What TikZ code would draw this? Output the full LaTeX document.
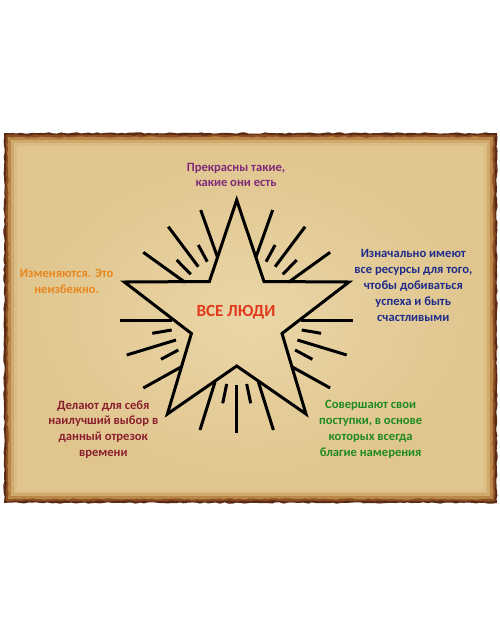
\documentclass[tikz,border=0pt]{standalone}
\usepackage{fontspec}
\setmainfont{Carlito}
\usetikzlibrary{decorations.pathmorphing}
\definecolor{burnA}{HTML}{5A2A12}
\definecolor{burnB}{HTML}{8C4F24}
\definecolor{burnC}{HTML}{B98748}
\definecolor{burnD}{HTML}{D0AA6C}
\definecolor{burnE}{HTML}{DBBC84}
\definecolor{parchIn}{HTML}{EAD6A8}
\definecolor{parchOut}{HTML}{E0C58E}
\definecolor{txtpurple}{HTML}{7E2A78}
\definecolor{txtblue}{HTML}{1E2C8C}
\definecolor{txtorange}{HTML}{E8871E}
\definecolor{txtmaroon}{HTML}{8A1F2E}
\definecolor{txtgreen}{HTML}{1F8A1F}
\definecolor{txtred}{HTML}{E23B1C}
\tikzset{
  rough/.style={decorate,decoration={random steps,segment length=4pt,amplitude=0.7pt}},
  ray/.style={line width=3pt,black,line cap=butt},
  starline/.style={line width=3pt,black,line join=miter},
  lbl/.style={align=center,font=\fontsize{12.6}{15.8}\selectfont\bfseries,inner sep=0pt},
}
\newcommand{\halfrays}{%
  \draw[ray] (200.7,210) -- (217.3,256.7);
  \draw[ray] (168.3,226.7) -- (198.3,266.7);
  \draw[ray] (143.3,252.3) -- (185,282.3);
  \draw[ray] (198.3,245) -- (207.3,261.7);
  \draw[ray] (176.7,260) -- (190.7,274.3);
  \draw[ray] (120,320) -- (172,320);
  \draw[ray] (152.3,333.3) -- (171.7,330);
  \draw[ray] (126.7,355) -- (176,340);
  \draw[ray] (161,359.3) -- (178.3,350);
  \draw[ray] (143.3,388) -- (181.6,366.7);
  \draw[ray] (226.7,384) -- (222.7,403.3);
  \draw[ray] (215,382) -- (200,430);
}
\begin{document}
\begin{tikzpicture}[x=1pt,y=-1pt]
\useasboundingbox (0,0) rectangle (500,625);
\fill[white] (0,0) rectangle (500,625);
\pgfmathsetseed{7}
% parchment
\fill[burnA,rough] (4,133) rectangle (497,503);
\fill[burnB,rough] (6,135) rectangle (495,501);
\fill[burnC,rough] (8,137) rectangle (493,499);
\fill[burnD] (11,140) rectangle (490,496);
\fill[burnE] (14,143) rectangle (487,493);
\shade[inner color=parchIn,outer color=parchOut] (17,146) rectangle (484,490);
% rays
\halfrays
\begin{scope}[shift={(473.4,0)},xscale=-1]
\halfrays
\end{scope}
\draw[ray] (236.7,385) -- (236.7,433);
% star
\draw[starline] (236.7,200) -- (264,281.5) -- (349,282) -- (282,333.5) -- (306,414)
  -- (236.7,366) -- (167.4,414) -- (191.4,333.5) -- (124.4,282) -- (209.4,281.5) -- cycle;
% texts
\node[lbl,text=txtpurple] (top) at (236,175) {Прекрасны такие,\\какие они есть};
\node[lbl,text=txtblue] (right) at (413.3,285.5) {Изначально имеют\\все ресурсы для того,\\чтобы добиваться\\успеха и быть\\счастливыми};
\node[lbl,text=txtorange] (left) at (66.7,281.5) {Изменяются. Это\\неизбежно.};
\node[lbl,text=txtmaroon] (botleft) at (103.3,429.5) {Делают для себя\\наилучший выбор в\\данный отрезок\\времени};
\node[lbl,text=txtgreen] (botright) at (370.7,429.5) {Совершают свои\\поступки, в основе\\которых всегда\\благие намерения};
\node[font=\fontsize{17}{20}\selectfont\bfseries,text=txtred,inner sep=0pt] (center) at (236,312.7) {ВСЕ ЛЮДИ};
\end{tikzpicture}
\end{document}
